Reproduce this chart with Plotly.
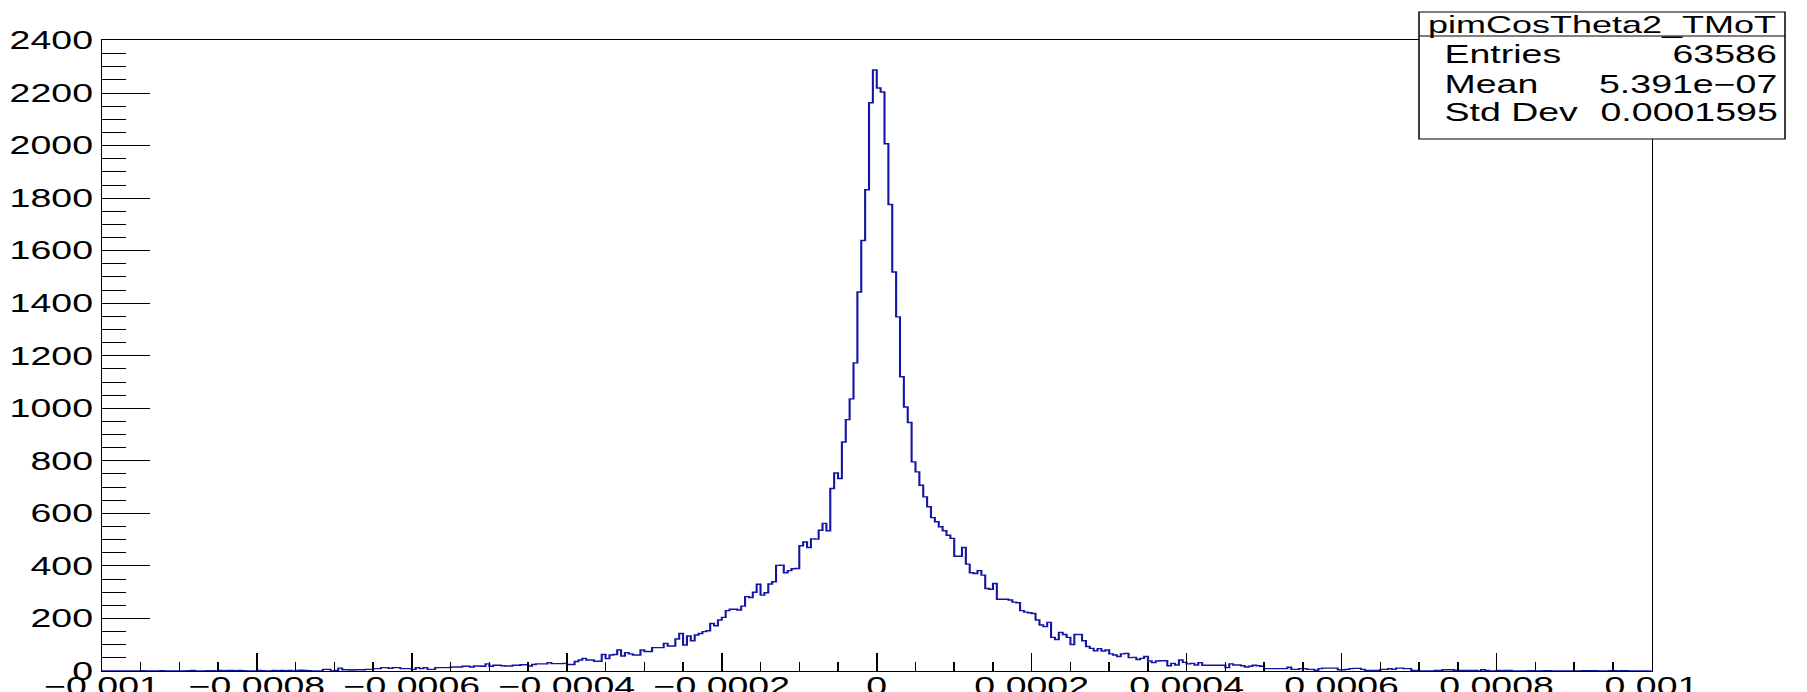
import numpy as np
import plotly.graph_objects as go

# ---------------- data (ROOT TH1: 400 bins on [-0.001, 0.001]) ----------------
hist_name = "pimCosTheta2_TMoT"
x_min, x_max, n_bins = -0.001, 0.001, 400

# bins 0-56
left_tail = [0, 0, 0, 0, 0, 0, 0, 0, 0, 0, 1, 0, 0, 0, 0, 1, 0, 0, 0, 0, 0, 0,
             1, 2, 0, 0, 0, 1, 1, 0, 2, 1, 2, 2, 1, 2, 1, 0, 0, 0, 2, 1, 0, 0,
             2, 1, 2, 1, 2, 0, 2, 3, 2, 1, 0, 0, 0]
# bins 57-118
left_rise = [6, 6, 0, 2, 11, 5, 5, 4, 5, 5, 5, 6, 6, 9, 9, 13, 13, 10, 13, 13,
             9, 9, 9, 6, 13, 9, 13, 6, 6, 13, 13, 13, 13, 15, 15, 15, 18, 18,
             15, 19, 19, 18, 27, 18, 22, 22, 20, 19, 19, 22, 22, 24, 24, 19,
             25, 27, 27, 27, 32, 28, 28, 28]
# bins 119-184
left_core = [29, 25, 25, 36, 42, 48, 42, 42, 37, 37,
             63, 47, 61, 63, 80, 57, 70, 65, 61, 61,
             80, 74, 74, 89, 89, 89, 105, 95, 95, 122,
             143, 99, 133, 115, 137, 143, 150, 153, 181, 172,
             194, 204, 230, 235, 235, 232, 247, 283, 280, 300,
             330, 289, 298, 331, 340, 402, 403, 374, 382, 389,
             390, 477, 491, 470, 503, 502]
# bins 185-218
peak = [536, 562, 534, 695, 754, 733, 872, 957, 1036, 1173,
        1443, 1639, 1832, 2163, 2288, 2219, 2204, 2007, 1776, 1519,
        1348, 1120, 1005, 946, 796, 758, 707, 663, 625, 584,
        568, 549, 534, 517]
# bins 219-283
right_core = [505, 437, 437, 470, 407, 374, 371, 382, 365, 314,
              311, 333, 273, 273, 273, 270, 262, 260, 230, 224,
              222, 219, 194, 175, 169, 185, 128, 120, 147, 139,
              128, 101, 139, 139, 115, 93, 86, 77, 85, 76,
              80, 65, 61, 55, 65, 67, 51, 52, 44, 48,
              55, 38, 32, 38, 39, 39, 20, 29, 23, 42,
              33, 27, 29, 23, 32]
# bins 284-399
right_tail = [22, 22, 22, 22, 22, 22, 13, 27, 23, 23,
              20, 15, 18, 22, 20, 18, 9, 9, 9, 9,
              9, 9, 14, 6, 6, 9, 9, 6, 6, 2,
              9, 11, 11, 11, 11, 5, 5, 6, 9, 10,
              10, 6, 2, 2, 2, 2, 6, 6, 9, 6,
              11, 11, 9, 9, 2, 2, 0, 0, 0, 0,
              2, 2, 5, 5, 5, 3, 2, 2, 2, 2,
              2, 0, 5, 2, 0, 0, 2, 1, 2, 2,
              0, 0, 0, 0, 1, 1, 0, 0, 1, 1,
              0, 0, 0, 0, 0, 0, 0, 0, 1, 1,
              1, 1, 0, 0, 0, 1, 1, 0, 1, 1,
              0, 0, 0, 0, 0, 0]

counts = left_tail + left_rise + left_core + peak + right_core + right_tail
assert len(counts) == n_bins

x_tickvals = [-0.001, -0.0008, -0.0006, -0.0004, -0.0002, 0.0,
              0.0002, 0.0004, 0.0006, 0.0008, 0.001]
x_ticktext = ["\u22120.001", "\u22120.0008", "\u22120.0006", "\u22120.0004",
              "\u22120.0002", "0", "0.0002", "0.0004", "0.0006", "0.0008",
              "0.001"]
y_tickvals = list(range(0, 2401, 200))
y_ticktext = [str(v) for v in y_tickvals]

stats_labels = ["Entries", "Mean", "Std Dev"]
stats_values = ["63586", "5.391e\u221207", "0.0001595"]

# ---------------- geometry ----------------
S = 1.5                  # horizontal stretch of the whole canvas
W, H = 1205, 692
ML, MR, MT, MB = 68, 104, 40, 21
PW = W - ML - MR
PH = H - MT - MB


def px(xfull):
    return (xfull / S - ML) / PW


def py(yfull):
    return (H - MB - yfull) / PH


edges = np.linspace(x_min, x_max, n_bins + 1)
xs = list(edges)
ys = list(counts) + [counts[-1]]

FONT = "Liberation Sans, Arial, Helvetica, sans-serif"
LINE = "#1515a4"

fig = go.Figure()
fig.add_trace(go.Scatter(
    x=xs, y=ys, mode="lines", line=dict(shape="hv", color=LINE, width=1.4),
    hoverinfo="skip", showlegend=False))

fig.update_layout(
    width=W, height=H, autosize=False,
    margin=dict(l=ML, r=MR, t=MT, b=MB, pad=0, autoexpand=False),
    paper_bgcolor="white", plot_bgcolor="white",
    font=dict(family=FONT, size=24, color="black"),
    showlegend=False,
    xaxis=dict(
        range=[x_min, x_max], showgrid=False, zeroline=False, automargin=False,
        showline=True, linecolor="black", linewidth=1, mirror=True,
        ticks="inside", ticklen=18, tickwidth=1, tickcolor="black",
        tickvals=x_tickvals, ticktext=x_ticktext, ticklabelstandoff=-7,
        tickfont=dict(family=FONT, size=25, color="black"),
        minor=dict(ticks="inside", ticklen=9, tickwidth=1, tickcolor="black",
                   dtick=0.00005, tick0=0, showgrid=False),
    ),
    yaxis=dict(
        range=[0, 2402], showgrid=False, zeroline=False, automargin=False,
        showline=True, linecolor="black", linewidth=1, mirror=True,
        ticks="inside", ticklen=32, tickwidth=1, tickcolor="black",
        tickvals=y_tickvals, ticktext=y_ticktext,
        tickfont=dict(family=FONT, size=25, color="black"),
        minor=dict(ticks="inside", ticklen=16, tickwidth=1, tickcolor="black",
                   dtick=50, tick0=0, showgrid=False),
    ),
)

# stats box
bx0, bx1, by0, by1, bsep = 1419, 1785, 12, 139, 36
fig.add_shape(type="rect", xref="paper", yref="paper",
              x0=px(bx0), x1=px(bx1), y0=py(by1), y1=py(by0),
              fillcolor="white", line=dict(color="black", width=1), layer="above")
fig.add_shape(type="line", xref="paper", yref="paper",
              x0=px(bx0), x1=px(bx1), y0=py(bsep), y1=py(bsep),
              line=dict(color="black", width=1), layer="above")
fig.add_annotation(xref="paper", yref="paper", x=px((bx0 + bx1) / 2), y=py(24),
                   text=hist_name, showarrow=False, xanchor="center", yanchor="middle",
                   font=dict(family=FONT, size=24, color="black"))
row_y = [54, 84, 112]
for lab, val, yy in zip(stats_labels, stats_values, row_y):
    fig.add_annotation(xref="paper", yref="paper", x=px(1441), y=py(yy), text=lab,
                       showarrow=False, xanchor="left", yanchor="middle",
                       font=dict(family=FONT, size=25, color="black"))
    fig.add_annotation(xref="paper", yref="paper", x=px(1781), y=py(yy), text=val,
                       showarrow=False, xanchor="right", yanchor="middle",
                       font=dict(family=FONT, size=25, color="black"))

post = ("var d=document.getElementById('{plot_id}');"
        "d.style.transformOrigin='0 0';"
        "d.style.transform='scaleX(%s)';"
        "document.body.style.margin='0';"
        "document.body.style.overflow='hidden';" % S)

fig.write_html("out.html", config={"displayModeBar": False}, post_script=post)
